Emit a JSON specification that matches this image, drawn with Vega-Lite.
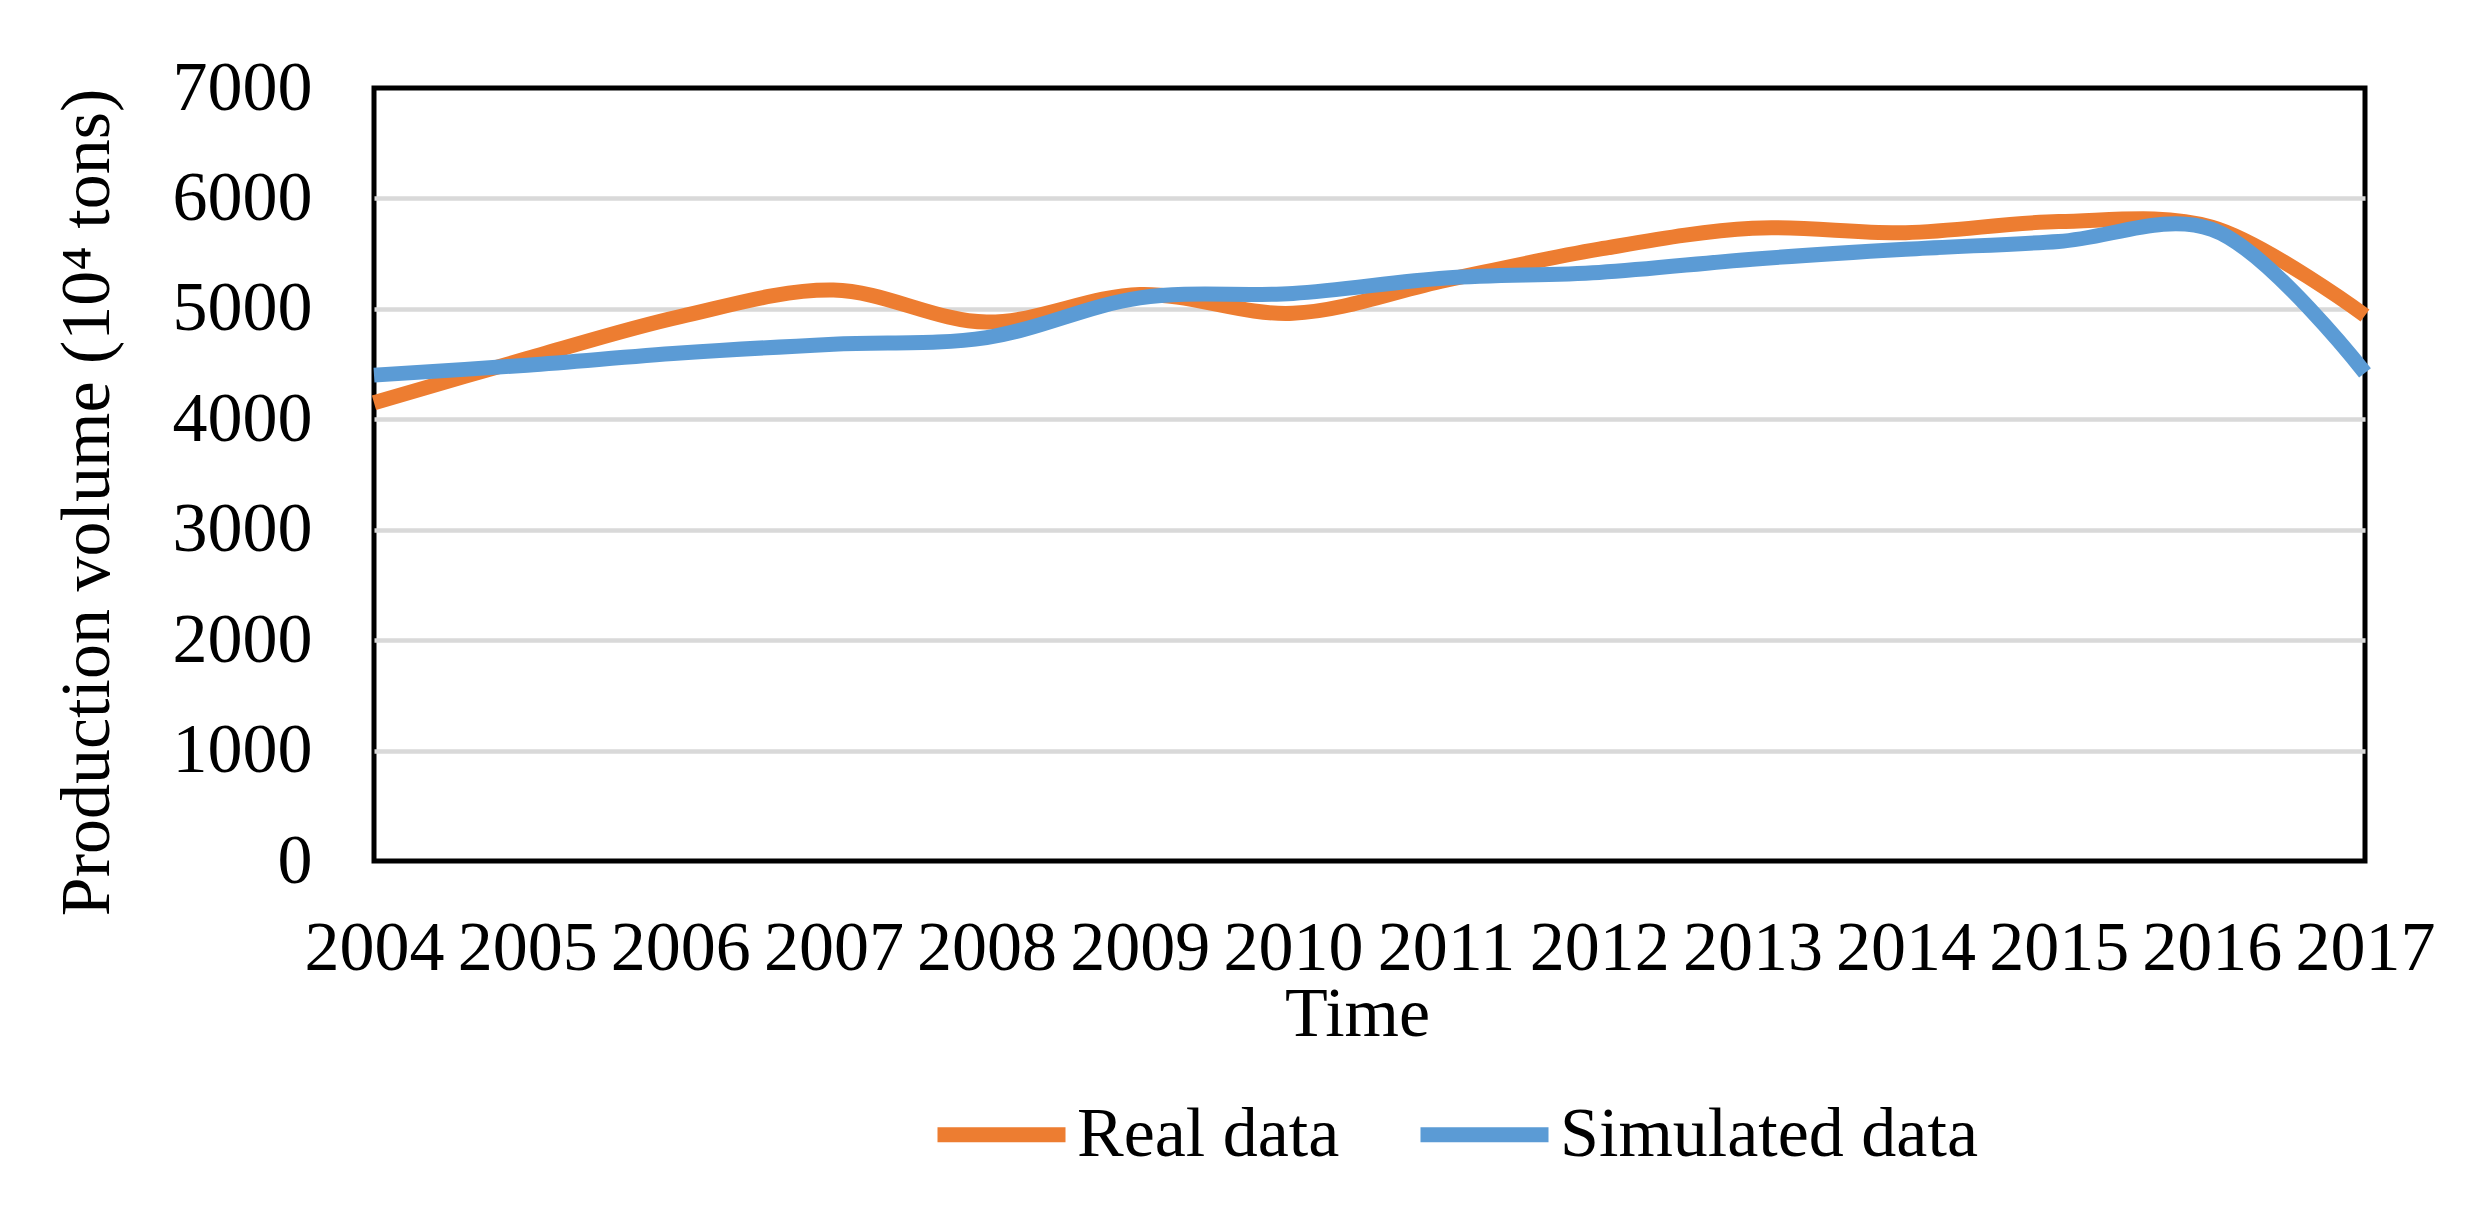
{
  "$schema": "https://vega.github.io/schema/vega-lite/v6.json",
  "autosize": {"type": "none"},
  "padding": {"left": 374, "top": 88, "right": 116, "bottom": 355},
  "width": 1991,
  "height": 773,
  "background": "white",
  "config": {
    "font": "Liberation Serif",
    "view": {"stroke": "black", "strokeWidth": 5},
    "axis": {"labelFont": "Liberation Serif", "titleFont": "Liberation Serif", "labelColor": "black", "titleColor": "black", "labelFontSize": 70, "titleFontSize": 70, "titleFontWeight": "normal"},
    "legend": {"labelFont": "Liberation Serif", "labelFontSize": 70, "labelColor": "black", "labelLimit": 1000}
  },
  "data": {
    "values": [
      {"Year": "2004", "Series": "Real data", "Value": 4150},
      {"Year": "2005", "Series": "Real data", "Value": 4550},
      {"Year": "2006", "Series": "Real data", "Value": 4930},
      {"Year": "2007", "Series": "Real data", "Value": 5170},
      {"Year": "2008", "Series": "Real data", "Value": 4880},
      {"Year": "2009", "Series": "Real data", "Value": 5130},
      {"Year": "2010", "Series": "Real data", "Value": 4960},
      {"Year": "2011", "Series": "Real data", "Value": 5260},
      {"Year": "2012", "Series": "Real data", "Value": 5540},
      {"Year": "2013", "Series": "Real data", "Value": 5730},
      {"Year": "2014", "Series": "Real data", "Value": 5690},
      {"Year": "2015", "Series": "Real data", "Value": 5790},
      {"Year": "2016", "Series": "Real data", "Value": 5740},
      {"Year": "2017", "Series": "Real data", "Value": 4940},
      {"Year": "2004", "Series": "Simulated data", "Value": 4400},
      {"Year": "2005", "Series": "Simulated data", "Value": 4490},
      {"Year": "2006", "Series": "Simulated data", "Value": 4600},
      {"Year": "2007", "Series": "Simulated data", "Value": 4680},
      {"Year": "2008", "Series": "Simulated data", "Value": 4740},
      {"Year": "2009", "Series": "Simulated data", "Value": 5100},
      {"Year": "2010", "Series": "Simulated data", "Value": 5140},
      {"Year": "2011", "Series": "Simulated data", "Value": 5280},
      {"Year": "2012", "Series": "Simulated data", "Value": 5330},
      {"Year": "2013", "Series": "Simulated data", "Value": 5450},
      {"Year": "2014", "Series": "Simulated data", "Value": 5540},
      {"Year": "2015", "Series": "Simulated data", "Value": 5610},
      {"Year": "2016", "Series": "Simulated data", "Value": 5720},
      {"Year": "2017", "Series": "Simulated data", "Value": 4420}
    ]
  },
  "mark": {"type": "line", "strokeWidth": 15, "interpolate": "catmull-rom", "strokeCap": "butt", "strokeJoin": "round"},
  "encoding": {
    "x": {
      "field": "Year", "type": "ordinal",
      "scale": {"type": "point", "padding": 0},
      "axis": {"title": "Time", "labelAngle": 0, "ticks": false, "tickSize": 0, "domain": false, "grid": false,
        "labelBaseline": "alphabetic", "labelPadding": 108, "labelOverlap": false, "labelFlush": false,
        "titleX": 983, "titleY": 174, "titleBaseline": "alphabetic", "titleAlign": "center", "titleAnchor": null}
    },
    "y": {
      "field": "Value", "type": "quantitative",
      "scale": {"domain": [0, 7000], "nice": false, "zero": true},
      "axis": {"title": "Production volume (10⁴ tons)", "values": [0, 1000, 2000, 3000, 4000, 5000, 6000, 7000],
        "ticks": false, "tickSize": 0, "domain": false, "grid": true, "gridColor": "#d9d9d9", "gridWidth": 4.5,
        "gridOpacity": {"condition": {"test": "datum.value === 0 || datum.value === 7000", "value": 0}, "value": 1},
        "labelPadding": 62, "format": "d",
        "titleAngle": -90, "titleX": -266, "titleY": 414, "titleBaseline": "alphabetic", "titleAlign": "center", "titleAnchor": null}
    },
    "color": {
      "field": "Series", "type": "nominal",
      "scale": {"domain": ["Real data", "Simulated data"], "range": ["#ED7D31", "#5B9BD5"]},
      "legend": {"title": null, "orient": "none", "direction": "horizontal", "legendX": 556, "legendY": 975,
        "symbolType": "stroke", "symbolSize": 16384, "symbolStrokeWidth": 15, "labelOffset": 4, "columnPadding": 50,
        "labelBaseline": "middle", "labelLimit": 1000}
    }
  }
}
